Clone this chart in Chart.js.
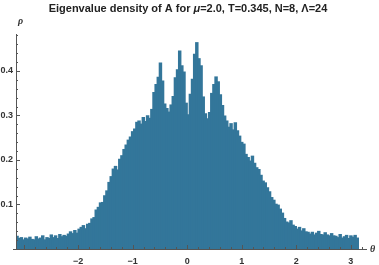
<!DOCTYPE html>
<html>
<head>
<meta charset="utf-8">
<script src="https://cdn.jsdelivr.net/npm/chart.js@4.4.1/dist/chart.umd.min.js"></script>
<style>
  html, body { margin: 0; padding: 0; background: #fff; }
  #wrap { width: 379px; height: 265px; }
</style>
</head>
<body>
<div id="wrap"><canvas id="hist"></canvas></div>
<script>
// histogram of eigenvalue angles, 160 bins over [-pi, pi]
const thetaMin = -Math.PI;
const thetaMax = Math.PI;
const density = [
  0.029,0.024,0.026,0.021,0.025,0.023,0.027,0.022,0.021,0.028,0.023,0.025,0.030,0.021,0.026,0.024,
  0.032,0.026,0.030,0.024,0.033,0.028,0.031,0.029,
  0.034,0.039,0.035,0.042,0.036,
  0.045,0.049,0.053,0.046,0.056,
  0.058,0.068,0.071,0.088,
  0.094,0.104,0.105,
  0.120,0.131,0.150,
  0.163,0.180,0.186,0.178,
  0.202,0.210,
  0.224,0.234,0.245,
  0.252,0.264,
  0.270,0.285,0.288,
  0.281,0.296,0.287,0.300,0.294,
  0.314,
  0.352,0.370,
  0.386,
  0.418,
  0.378,
  0.326,0.316,
  0.308,0.324,
  0.343,
  0.385,0.403,
  0.445,
  0.412,0.398,
  0.328,
  0.302,
  0.348,0.382,
  0.438,
  0.464,
  0.428,0.412,
  0.342,
  0.304,0.293,0.307,
  0.350,
  0.370,0.387,0.376,
  0.347,0.323,
  0.299,0.288,
  0.274,
  0.282,0.268,0.284,0.266,
  0.254,0.240,0.236,
  0.213,0.206,0.198,0.209,
  0.193,0.183,0.179,
  0.166,0.153,0.149,0.138,
  0.129,0.116,
  0.110,0.101,0.099,0.090,
  0.081,
  0.069,0.061,0.059,0.064,0.054,
  0.051,0.045,0.049,0.041,0.046,0.039,
  0.038,0.034,0.038,0.032,0.036,0.040,0.033,0.032,0.037,0.032,0.030,0.035,0.030,
  0.029,0.026,0.033,0.025,0.028,0.031,0.024,0.030,0.027,0.031,0.025
];
const xTicks = [-2, -1, 0, 1, 2, 3];
const yTicks = [0.1, 0.2, 0.3, 0.4];

const binW = (thetaMax - thetaMin) / density.length;
const points = density.map((v, i) => ({x: thetaMin + (i + 0.5) * binW, y: v}));

const axisColor = '#555';
const labelFont = '600 9px "Liberation Sans", Arial, sans-serif';

// mathematica-like axes through the origin, ticks pointing inward
const axesPlugin = {
  id: 'axes',
  afterDraw(chart) {
    const ctx = chart.ctx;
    const xs = chart.scales.x, ys = chart.scales.y;
    const x0 = xs.getPixelForValue(thetaMin);
    const y0 = ys.getPixelForValue(0);
    ctx.save();
    ctx.strokeStyle = axisColor;
    ctx.lineWidth = 1;
    ctx.beginPath();
    ctx.moveTo(x0 - 3, y0 + 0.5);
    ctx.lineTo(xs.right, y0 + 0.5);
    ctx.moveTo(x0 + 0.5, y0);
    ctx.lineTo(x0 + 0.5, ys.top);
    // x ticks
    for (let t = -30; t <= 32; t += 2) {
      const v = t / 10;
      if (v < thetaMin) continue;
      const px = Math.round(xs.getPixelForValue(v)) + 0.5;
      const len = (t % 10 === 0) ? 4 : 2;
      ctx.moveTo(px, y0);
      ctx.lineTo(px, y0 - len);
    }
    // y ticks
    for (let t = 2; t <= 48; t += 2) {
      const py = Math.round(ys.getPixelForValue(t / 100)) + 0.5;
      const len = (t % 10 === 0) ? 4 : 2;
      ctx.moveTo(x0, py);
      ctx.lineTo(x0 + len, py);
    }
    ctx.stroke();

    ctx.fillStyle = '#333';
    ctx.font = labelFont;
    ctx.textAlign = 'center';
    ctx.textBaseline = 'top';
    xTicks.forEach(v => {
      const s = v < 0 ? '\u2212' + (-v) : String(v);
      ctx.fillText(s, xs.getPixelForValue(v), y0 + 8);
    });
    ctx.textAlign = 'right';
    ctx.textBaseline = 'middle';
    yTicks.forEach(v => {
      ctx.fillText(v.toFixed(1), x0 - 3, ys.getPixelForValue(v));
    });

    // axis labels
    ctx.font = 'italic bold 10px "Liberation Serif", "Times New Roman", serif';
    ctx.textAlign = 'left';
    ctx.fillText('\u03c1', x0 + 2, 21);
    ctx.fillText('\u03b8', 370, y0);

    // title with italic mu
    const parts = [
      ['bold 11px "Liberation Sans", Arial, sans-serif', 'Eigenvalue density of A for '],
      ['italic bold 11px "Liberation Sans", Arial, sans-serif', '\u03bc'],
      ['bold 11px "Liberation Sans", Arial, sans-serif', '=2.0, T=0.345, N=8, \u039b=24']
    ];
    let total = 0;
    parts.forEach(p => { ctx.font = p[0]; total += ctx.measureText(p[1]).width; });
    let tx = 188 - total / 2;
    ctx.fillStyle = '#222';
    ctx.textBaseline = 'alphabetic';
    parts.forEach(p => {
      ctx.font = p[0];
      ctx.fillText(p[1], tx, 12);
      tx += ctx.measureText(p[1]).width;
    });
    ctx.restore();
  }
};

new Chart(document.getElementById('hist'), {
  type: 'bar',
  data: {
    datasets: [{
      data: points,
      backgroundColor: '#33769a',
      borderWidth: 0,
      barThickness: 2.8
    }]
  },
  options: {
    responsive: true,
    maintainAspectRatio: false,
    animation: false,
    layout: {padding: {left: 16, right: 12, top: 34, bottom: 16}},
    plugins: {legend: {display: false}, tooltip: {enabled: false}, title: {display: false}},
    scales: {
      x: {type: 'linear', min: thetaMin, max: 3.3, display: false, offset: false},
      y: {min: 0, max: 0.483, display: false}
    }
  },
  plugins: [axesPlugin]
});
</script>
</body>
</html>
